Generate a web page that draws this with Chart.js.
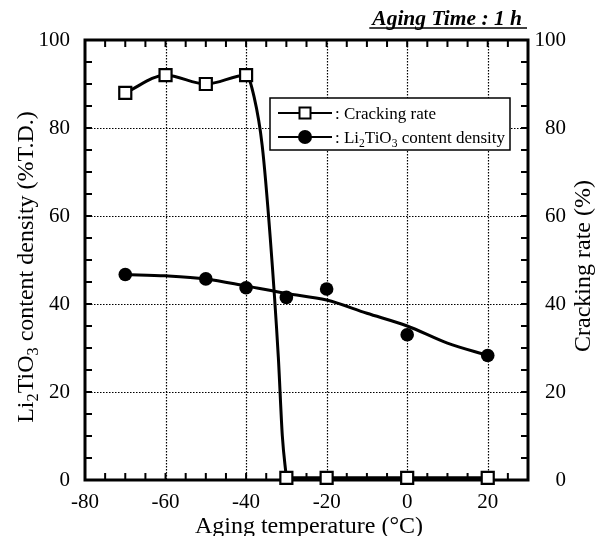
<!DOCTYPE html>
<html>
<head>
<meta charset="utf-8">
<script src="https://cdn.jsdelivr.net/npm/chart.js@4.4.1/dist/chart.umd.min.js"></script>
<style>
  body { margin: 0; background: #fff; }
  canvas { display: block; }
</style>
</head>
<body>
<canvas id="agingChart" width="596" height="536"></canvas>
<script>
// values
const crackTemps = [-70, -60, -50, -40, -30, -20, 0, 20];
const crackRate = [88, 92, 90, 92, 0.5, 0.5, 0.5, 0.5];
// hand drawn curve through the cracking points: the drop, then the flat part
const crackDropTemps = [-70, -60, -50, -40, -38, -36, -34, -32, -31, -30];
const crackDrop = [88, 92, 90, 92, 87, 76, 55, 28, 10, 0.5];
const crackFlatTemps = [-30, -20, 0, 20];
const crackFlat = [0.5, 0.5, 0.5, 0.5];

const densityTemps = [-70, -50, -40, -30, -20, 0, 20];
const density = [46.7, 45.7, 43.7, 41.5, 43.4, 33.0, 28.3];
// fitted density line
const densityFitTemps = [-70, -60, -50, -40, -30, -20, -10, 0, 10, 20];
const densityFit = [46.7, 46.4, 45.7, 44.1, 42.4, 40.9, 37.9, 35.0, 31.1, 28.3];

const xTickValues = [-80, -60, -40, -20, 0, 20];
const yTickValues = [0, 20, 40, 60, 80, 100];

const SERIF = "'Liberation Serif', 'Times New Roman', serif";

function toPoints(xs, ys) {
  return xs.map((v, i) => ({ x: v, y: ys[i] }));
}

// text with subscripts, parts = [[text, isSub], ...]
function richWidth(ctx, parts, size) {
  let w = 0;
  parts.forEach(p => {
    ctx.font = (p[1] ? size * 0.68 : size) + 'px ' + SERIF;
    w += ctx.measureText(p[0]).width;
  });
  return w;
}

function drawRich(ctx, parts, x, y, size) {
  parts.forEach(p => {
    ctx.font = (p[1] ? size * 0.68 : size) + 'px ' + SERIF;
    ctx.fillText(p[0], x, p[1] ? y + size * 0.22 : y);
    x += ctx.measureText(p[0]).width;
  });
}

function curveLine(xs, ys, order) {
  return {
    data: toPoints(xs, ys),
    borderColor: '#000',
    borderWidth: 3,
    pointRadius: 0,
    cubicInterpolationMode: 'monotone',
    order: order,
    clip: false
  };
}

const framePlugin = {
  id: 'frame',
  beforeDatasetsDraw(chart) {
    const { ctx, chartArea: a, scales: { x, y } } = chart;
    ctx.save();
    ctx.strokeStyle = '#000';

    // dotted grid
    ctx.lineWidth = 1.2;
    ctx.setLineDash([1.5, 1.5]);
    [-60, -40, -20, 0, 20].forEach(v => {
      const px = Math.round(x.getPixelForValue(v)) + 0.5;
      ctx.beginPath();
      ctx.moveTo(px, a.top);
      ctx.lineTo(px, a.bottom);
      ctx.stroke();
    });
    [20, 40, 60, 80].forEach(v => {
      const py = Math.round(y.getPixelForValue(v)) + 0.5;
      ctx.beginPath();
      ctx.moveTo(a.left, py);
      ctx.lineTo(a.right, py);
      ctx.stroke();
    });
    ctx.setLineDash([]);

    // inward ticks every 5
    ctx.lineWidth = 2;
    for (let v = -75; v < 30; v += 5) {
      const px = x.getPixelForValue(v);
      ctx.beginPath();
      ctx.moveTo(px, a.bottom);
      ctx.lineTo(px, a.bottom - 7);
      ctx.moveTo(px, a.top);
      ctx.lineTo(px, a.top + 7);
      ctx.stroke();
    }
    for (let v = 5; v < 100; v += 5) {
      const py = y.getPixelForValue(v);
      ctx.beginPath();
      ctx.moveTo(a.left, py);
      ctx.lineTo(a.left + 7, py);
      ctx.moveTo(a.right, py);
      ctx.lineTo(a.right - 7, py);
      ctx.stroke();
    }

    // frame
    ctx.lineWidth = 3;
    ctx.strokeRect(a.left, a.top, a.right - a.left, a.bottom - a.top);
    ctx.restore();
  },
  afterDraw(chart) {
    const { ctx } = chart;
    ctx.save();
    ctx.strokeStyle = '#000';

    // legend box
    ctx.fillStyle = '#fff';
    ctx.fillRect(270, 98, 240, 52);
    ctx.lineWidth = 1.5;
    ctx.strokeRect(270, 98, 240, 52);
    ctx.lineWidth = 2;
    [113, 137].forEach(ly => {
      ctx.beginPath();
      ctx.moveTo(278, ly);
      ctx.lineTo(332, ly);
      ctx.stroke();
    });
    ctx.fillStyle = '#fff';
    ctx.fillRect(299.5, 107.5, 11, 11);
    ctx.strokeRect(299.5, 107.5, 11, 11);
    ctx.fillStyle = '#000';
    ctx.beginPath();
    ctx.arc(305, 137, 7, 0, Math.PI * 2);
    ctx.fill();

    ctx.textBaseline = 'alphabetic';
    ctx.textAlign = 'left';
    drawRich(ctx, [[': Cracking rate', 0]], 335, 119, 17);
    drawRich(ctx, [[': Li', 0], ['2', 1], ['TiO', 0], ['3', 1], [' content density', 0]], 335, 143, 17);

    // axis titles
    ctx.font = '24px ' + SERIF;
    ctx.textAlign = 'center';
    ctx.fillText('Aging temperature (\u00B0C)', 309, 533);

    const leftTitle = [['Li', 0], ['2', 1], ['TiO', 0], ['3', 1], [' content density (%T.D.)', 0]];
    ctx.save();
    ctx.translate(33, 267);
    ctx.rotate(-Math.PI / 2);
    ctx.textAlign = 'left';
    drawRich(ctx, leftTitle, -richWidth(ctx, leftTitle, 24) / 2, 0, 24);
    ctx.restore();

    ctx.save();
    ctx.translate(590, 266);
    ctx.rotate(-Math.PI / 2);
    ctx.font = '24px ' + SERIF;
    ctx.textAlign = 'center';
    ctx.fillText('Cracking rate (%)', 0, 0);
    ctx.restore();

    // aging time note
    ctx.font = 'italic bold 21.5px ' + SERIF;
    ctx.textAlign = 'right';
    const note = 'Aging Time : 1 h';
    const nw = ctx.measureText(note).width;
    ctx.fillText(note, 522, 25);
    ctx.lineWidth = 1.5;
    ctx.beginPath();
    ctx.moveTo(522 - nw - 3, 28);
    ctx.lineTo(527, 28);
    ctx.stroke();

    ctx.restore();
  }
};

document.addEventListener('DOMContentLoaded', function() {
  Chart.defaults.font.family = SERIF;
  Chart.defaults.color = '#000';

  const ctx = document.getElementById('agingChart').getContext('2d');

  const crackDropLine = curveLine(crackDropTemps, crackDrop, 2);
  crackDropLine.yAxisID = 'y2';
  const crackFlatLine = curveLine(crackFlatTemps, crackFlat, 3);
  crackFlatLine.yAxisID = 'y2';
  const densityLine = curveLine(densityFitTemps, densityFit, 4);
  densityLine.yAxisID = 'y';

  new Chart(ctx, {
    type: 'line',
    data: {
      datasets: [
        {
          label: 'Cracking rate',
          data: toPoints(crackTemps, crackRate),
          yAxisID: 'y2',
          showLine: false,
          pointStyle: 'rect',
          pointRadius: 8.5,
          pointBackgroundColor: '#fff',
          pointBorderColor: '#000',
          pointBorderWidth: 2.2,
          order: 0,
          clip: false
        },
        {
          label: 'Li2TiO3 content density',
          data: toPoints(densityTemps, density),
          yAxisID: 'y',
          showLine: false,
          pointStyle: 'circle',
          pointRadius: 6.8,
          pointBackgroundColor: '#000',
          pointBorderColor: '#000',
          pointBorderWidth: 0,
          order: 1,
          clip: false
        },
        crackDropLine,
        crackFlatLine,
        densityLine
      ]
    },
    options: {
      responsive: false,
      animation: false,
      devicePixelRatio: 1,
      events: [],
      layout: { padding: { top: 40, left: 0, right: 30, bottom: 0 } },
      plugins: {
        legend: { display: false },
        tooltip: { enabled: false }
      },
      scales: {
        x: {
          type: 'linear',
          position: 'bottom',
          min: -80,
          max: 30,
          grid: { display: false, drawTicks: false },
          border: { display: false },
          afterBuildTicks: s => { s.ticks = xTickValues.map(v => ({ value: v })); },
          afterFit: s => { s.height = 56; },
          ticks: {
            font: { size: 21 },
            padding: 10,
            maxRotation: 0,
            callback: v => String(v)
          }
        },
        y: {
          position: 'left',
          min: 0,
          max: 100,
          grid: { display: false, drawTicks: false },
          border: { display: false },
          afterBuildTicks: s => { s.ticks = yTickValues.map(v => ({ value: v })); },
          afterFit: s => { s.width = 85; },
          ticks: { font: { size: 21 }, padding: 15, callback: v => String(v) }
        },
        y2: {
          position: 'right',
          min: 0,
          max: 100,
          grid: { display: false, drawTicks: false },
          border: { display: false },
          afterBuildTicks: s => { s.ticks = yTickValues.map(v => ({ value: v })); },
          afterFit: s => { s.width = 38; },
          ticks: { font: { size: 21 }, padding: 5, crossAlign: 'far', callback: v => String(v) }
        }
      }
    },
    plugins: [framePlugin]
  });
});
</script>
</body>
</html>
